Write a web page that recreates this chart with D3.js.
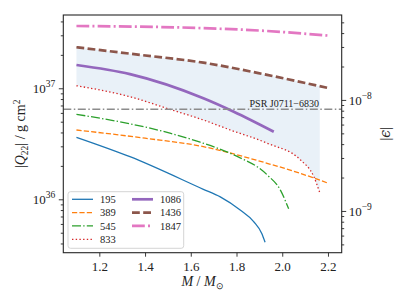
<!DOCTYPE html>
<html lang="en">
<head>
<meta charset="UTF-8">
<title>Q22 vs mass</title>
<script src="https://d3js.org/d3.v7.min.js"></script>
<style>
  body {margin: 0; background: #fff;}
  svg text {font-family: "Liberation Serif", "Times New Roman", serif; fill: #222;}
</style>
</head>
<body>
<script>
    // series: mass in Msun, |Q22| in g cm^2
    const labels = ["195", "389", "545", "833", "1086", "1436", "1847"];
    const m195 = [1.10, 1.334, 1.655, 1.729, 1.816, 1.875, 1.911, 1.925];
    const q195 = [3.62e36, 2.42e36, 1.23e36, 1.05e36, 8.0e35, 6.3e35, 4.9e35, 4.1e35];
    const m389 = [1.10, 1.40, 1.655, 1.788, 1.934, 2.08, 2.203];
    const q389 = [4.21e36, 3.55e36, 2.98e36, 2.56e36, 2.11e36, 1.71e36, 1.39e36];
    const m545 = [1.10, 1.509, 1.641, 1.788, 1.934, 1.992, 2.028];
    const q545 = [5.83e36, 3.94e36, 3.27e36, 2.51e36, 1.66e36, 1.21e36, 8.2e35];
    const m833 = [1.10, 1.334, 1.509, 1.655, 1.773, 1.934, 2.08, 2.138, 2.164];
    const q833 = [1.054e37, 8.39e36, 6.46e36, 5.18e36, 4.21e36, 3.20e36, 2.26e36, 1.60e36, 1.15e36];
    const m1086 = [1.10, 1.334, 1.655, 1.788, 1.963];
    const q1086 = [1.62e37, 1.34e37, 8.13e36, 6.15e36, 4.06e36];
    const m1436 = [1.10, 1.378, 1.655, 1.934, 2.196];
    const q1436 = [2.34e37, 2.00e37, 1.70e37, 1.32e37, 1.01e37];
    const m1847 = [1.10, 1.655, 1.934, 2.203];
    const q1847 = [3.64e37, 3.48e37, 3.28e37, 2.98e37];

    const psrQ = 6.47e36;
    const psrLabel = "PSR J0711\u22126830";
    const xTicks = [1.2, 1.4, 1.6, 1.8, 2.0, 2.2];
    const epsPerQ = Math.pow(10, -44.895);

    const width = 407, height = 305;
    const pLeft = 63.3, pRight = 341.7, pTop = 15, pBottom = 252.7;

    const x = d3.scaleLinear().domain([1.0425, 2.26]).range([pLeft, pRight]);
    const y = d3.scaleLog().domain([Math.pow(10, 35.519), Math.pow(10, 37.66)]).range([pBottom, pTop]);
    const yR = d3.scaleLog().domain(y.domain().map(d => d * epsPerQ)).range([pBottom, pTop]);

    const styles = [
        {color: "#1f77b4", w: 1.3, dash: null},
        {color: "#ff7f0e", w: 1.3, dash: "5.2,2.2"},
        {color: "#2ca02c", w: 1.3, dash: "9,2.2,1.4,2.2"},
        {color: "#d62728", w: 1.3, dash: "1.4,2.3"},
        {color: "#9467bd", w: 2.7, dash: null},
        {color: "#8c564b", w: 2.7, dash: "7.8,3.4"},
        {color: "#e377c2", w: 2.7, dash: "12.8,3.2,2,3.2"}
    ];
    const masses = [m195, m389, m545, m833, m1086, m1436, m1847];
    const quads = [q195, q389, q545, q833, q1086, q1436, q1847];
    const series = labels.map((l, i) => ({
        label: l, style: styles[i],
        pts: masses[i].map((m, j) => [m, quads[i][j]])
    }));

    const svg = d3.select("body").append("svg")
            .attr("width", width).attr("height", height);

    svg.append("clipPath").attr("id", "clip")
            .append("rect").attr("x", pLeft).attr("y", pTop)
            .attr("width", pRight - pLeft).attr("height", pBottom - pTop);

    const plot = svg.append("g").attr("clip-path", "url(#clip)");

    // band between 833 and 1436
    const topEdge = d3.scaleLinear().domain(m1436).range(q1436.map(Math.log10));
    plot.append("path")
            .datum(series[3].pts)
            .attr("fill", "#e9f1f8")
            .attr("d", d3.area()
                    .curve(d3.curveMonotoneX)
                    .x(d => x(d[0]))
                    .y0(d => y(d[1]))
                    .y1(d => y(Math.pow(10, topEdge(d[0])))));

    const line = d3.line().curve(d3.curveMonotoneX)
            .x(d => x(d[0])).y(d => y(d[1]));

    plot.selectAll("path.series")
            .data(series)
            .enter()
            .append("path")
            .attr("class", "series")
            .attr("fill", "none")
            .attr("stroke", d => d.style.color)
            .attr("stroke-width", d => d.style.w)
            .attr("stroke-dasharray", d => d.style.dash)
            .attr("d", d => line(d.pts));

    // pulsar limit
    plot.append("line")
            .attr("x1", pLeft).attr("x2", pRight)
            .attr("y1", y(psrQ)).attr("y2", y(psrQ))
            .attr("stroke", "#8c8c8c").attr("stroke-width", 1.5)
            .attr("stroke-dasharray", "8,2.5,1.5,2.5");
    svg.append("text")
            .attr("x", 319).attr("y", y(psrQ) - 2.2)
            .attr("text-anchor", "end")
            .style("font-size", "10px")
            .text(psrLabel);

    // axes
    function minorTicks(scale) {
        const [a, b] = scale.domain();
        const out = [];
        for (let e = Math.floor(Math.log10(a)); e <= Math.ceil(Math.log10(b)); e++) {
            for (let k = 2; k < 10; k++) {
                const v = k * Math.pow(10, e);
                if (v >= a && v <= b) out.push(v);
            }
        }
        return out;
    }
    function majorTicks(scale) {
        const [a, b] = scale.domain();
        const out = [];
        for (let e = Math.ceil(Math.log10(a)); e <= Math.floor(Math.log10(b)); e++) out.push(e);
        return out;
    }

    const axisColor = "#262626";

    const gx = svg.append("g").attr("transform", `translate(0,${pBottom})`)
            .call(d3.axisBottom(x).tickValues(xTicks).tickSize(4).tickSizeOuter(0)
                    .tickFormat(d3.format(".1f")));
    gx.selectAll("text").attr("dy", null).attr("y", 18).style("font-size", "13px");

    svg.append("g").attr("transform", `translate(${pLeft},0)`)
            .call(d3.axisLeft(y).tickValues(minorTicks(y)).tickSize(2.5).tickSizeOuter(0).tickFormat(""));
    const gy = svg.append("g").attr("transform", `translate(${pLeft},0)`)
            .call(d3.axisLeft(y).tickValues(majorTicks(y).map(e => Math.pow(10, e)))
                    .tickSize(4.5).tickSizeOuter(0).tickFormat(""));
    gy.selectAll(".tick").each(function(d) {
        const t = d3.select(this).append("text")
                .attr("x", -8).attr("y", 4.5).attr("text-anchor", "end")
                .style("font-size", "13px");
        t.append("tspan").text("10");
        t.append("tspan").attr("dy", -6).style("font-size", "9.5px").text(Math.round(Math.log10(d)));
    });

    svg.append("g").attr("transform", `translate(${pRight},0)`)
            .call(d3.axisRight(yR).tickValues(minorTicks(yR)).tickSize(2.5).tickSizeOuter(0).tickFormat(""));
    const gyr = svg.append("g").attr("transform", `translate(${pRight},0)`)
            .call(d3.axisRight(yR).tickValues(majorTicks(yR).map(e => Math.pow(10, e)))
                    .tickSize(4.5).tickSizeOuter(0).tickFormat(""));
    gyr.selectAll(".tick").each(function(d) {
        const t = d3.select(this).append("text")
                .attr("x", 7).attr("y", 4.5).attr("text-anchor", "start")
                .style("font-size", "13px");
        t.append("tspan").text("10");
        t.append("tspan").attr("dy", -6).style("font-size", "9.5px")
                .text("\u2212" + Math.abs(Math.round(Math.log10(d))));
    });

    svg.selectAll(".domain").remove();
    svg.selectAll(".tick line").attr("stroke", axisColor).attr("stroke-width", 0.9);
    svg.selectAll(".tick text").attr("fill", "#222")
            .attr("font-family", "Liberation Serif, serif");

    svg.append("rect")
            .attr("x", pLeft).attr("y", pTop)
            .attr("width", pRight - pLeft).attr("height", pBottom - pTop)
            .attr("fill", "none").attr("stroke", axisColor).attr("stroke-width", 1.1);

    // axis labels
    const xl = svg.append("text")
            .attr("x", (pLeft + pRight) / 2).attr("y", 286)
            .attr("text-anchor", "middle").style("font-size", "14px");
    xl.append("tspan").style("font-style", "italic").text("M");
    xl.append("tspan").text(" / ");
    xl.append("tspan").style("font-style", "italic").text("M");
    xl.append("tspan").attr("dy", 3).style("font-size", "9px").text("\u2299");

    const yl = svg.append("text")
            .attr("transform", `translate(25,${(pTop + pBottom) / 2}) rotate(-90)`)
            .attr("text-anchor", "middle").style("font-size", "14px");
    yl.append("tspan").text("|");
    yl.append("tspan").style("font-style", "italic").text("Q");
    yl.append("tspan").attr("dy", 3).style("font-size", "9.5px").text("22");
    yl.append("tspan").attr("dy", -3).text("| / g cm");
    yl.append("tspan").attr("dy", -5.5).style("font-size", "9.5px").text("2");

    const yr = svg.append("text")
            .attr("transform", `translate(390,${(pTop + pBottom) / 2}) rotate(-90)`)
            .attr("text-anchor", "middle").style("font-size", "14px");
    yr.append("tspan").text("|");
    yr.append("tspan").style("font-style", "italic").style("font-family", "DejaVu Serif").text("\u03f5");
    yr.append("tspan").text("|");

    // legend
    const legend = svg.append("g");
    legend.append("rect")
            .attr("x", 68).attr("y", 191.7).attr("width", 115.7).attr("height", 56.6)
            .attr("rx", 2.5)
            .attr("fill", "#fff").attr("fill-opacity", 0.8)
            .attr("stroke", "#d0d0d0").attr("stroke-width", 0.9);
    const rows = legend.selectAll("g.item")
            .data(series)
            .enter()
            .append("g")
            .attr("class", "item")
            .attr("transform", (d, i) => `translate(${i < 4 ? 72 : 132},${199.3 + (i % 4) * 13.33})`);
    rows.append("line")
            .attr("x1", 0).attr("x2", 21)
            .attr("stroke", d => d.style.color)
            .attr("stroke-width", d => d.style.w)
            .attr("stroke-dasharray", d => d.style.dash);
    rows.append("text")
            .attr("x", 28).attr("y", 3.6)
            .style("font-size", "10.5px")
            .text(d => d.label);
</script>
</body>
</html>
